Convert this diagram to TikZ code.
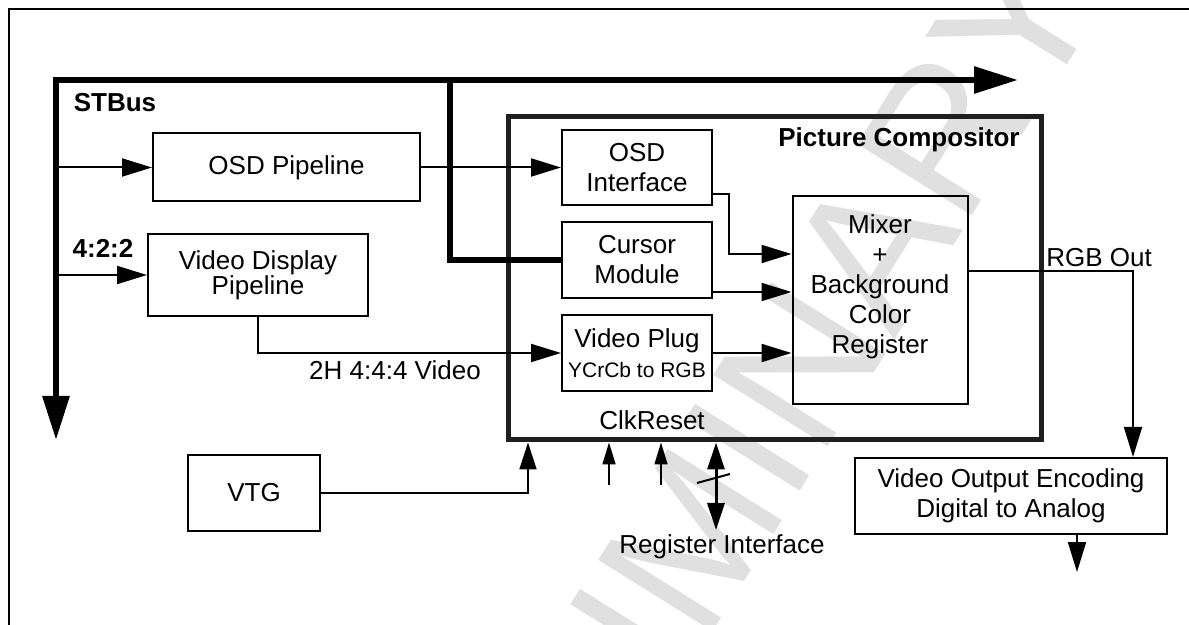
\documentclass[tikz,border=0pt]{standalone}
\usepackage{fontspec}
\setmainfont{Liberation Sans}
\usetikzlibrary{arrows.meta,positioning}
\newcommand{\pcfont}{\fontsize{13pt}{15pt}\selectfont}

\begin{document}
\begin{tikzpicture}[x=0.5pt,y=-0.5pt,
  pcbox/.style={draw=black,line width=1pt,align=center,inner sep=0pt,
    font=\pcfont},
  pcflow/.style={line width=1pt,-{Triangle[length=15pt,width=9pt]}},
  pcclk/.style={line width=0.8pt,-{Triangle[length=11pt,width=6.5pt]}},
  pcpin/.style={line width=1pt,-{Triangle[length=13.5pt,width=8.5pt]}},
  pcbus/.style={line width=3pt},
  pctext/.style={inner sep=0pt,font=\pcfont},
  pcbold/.style={inner sep=0pt,font=\pcfont\bfseries}
]
  \useasboundingbox (0,0) rectangle (1189,625);
  \begin{scope}
    \clip (0,0) rectangle (1189,625);
    \node[rotate=58,text=black!12,inner sep=0pt,
      font=\fontsize{98pt}{98pt}\selectfont] (draftmark) at (698,528)
      {PRELIMINARY};
  \end{scope}
  \draw[line width=1pt] (9,625) |- (1189,9);

  % STBus
  \coordinate (busend) at (1018,80);
  \coordinate (busdown) at (56,440);
  \coordinate (busfork) at (450,80);
  \draw[pcbus,{Triangle[length=22pt,width=13pt]}-{Triangle[length=22pt,width=13pt]}]
    (busdown) |- (busend);
  \node[pcbold] (stbus) at (115,103) {STBus};

  \node[pcbox,minimum width=133.5pt,minimum height=34pt] (osdpipe)
    at (286.5,167.5) {OSD Pipeline};
  \node[pcbox,minimum width=110pt,minimum height=41pt,
    font=\fontsize{13pt}{12.5pt}\selectfont] (vdp) at (258,275)
    {Video Display\\Pipeline};
  \node[pcbold] (fmt) at (103,248) {4:2:2};
  \draw[pcflow] (busdown |- osdpipe.west) -- (osdpipe.west);
  \draw[pcflow] (busdown |- vdp.west) -- (vdp.west);

  % Picture Compositor
  \node[draw=black!88,line width=2.5pt,minimum width=266.5pt,
    minimum height=161.5pt] (pc) at (774.5,278.5) {};
  \node[pcbold] (pctitle) at (899,140) {Picture Compositor};
  \node[pcbox,minimum width=75pt,minimum height=37.5pt] (osdif)
    at (637,167.5) {OSD\\Interface};
  \node[pcbox,minimum width=75pt,minimum height=38pt] (cursor)
    at (637,260) {Cursor\\Module};
  \node[pcbox,minimum width=75pt,minimum height=38pt] (vplug)
    at (637,353) {Video Plug\\{\fontsize{10.5pt}{12pt}\selectfont YCrCb to RGB}};
  \node[pcbox,minimum width=87.5pt,minimum height=104pt] (mixer)
    at (880,300) {};
  \node[pctext,align=center] (mixertext) at (880,287)
    {Mixer\\+\\Background\\Color\\Register};
  \node[pctext] (clk) at (652,420) {ClkReset};

  \draw[pcbus] (busfork) |- (cursor.west);
  \draw[pcflow] (osdpipe.east) -- (osdif.west);
  \draw[pcflow] (vdp.south) |- (vplug.west);
  \node[pctext] (vidlabel) at (395,370) {2H 4:4:4 Video};

  \draw[pcflow] (osdif.east |- 0,194) -- ++(16,0) |- (mixer.west |- 0,254);
  \draw[pcflow] (cursor.east |- 0,292) -- (mixer.west |- 0,292);
  \draw[pcflow] (vplug.east) -- (mixer.west |- vplug.east);

  % output side
  \node[pcbox,minimum width=156pt,minimum height=38pt] (vout)
    at (1011,496) {Video Output Encoding\\Digital to Analog};
  \draw[pcflow] (mixer.east |- 0,271) -| (vout.north -| 1133,0);
  \node[pctext] (rgbout) at (1099,258) {RGB Out};
  \coordinate (voutend) at (1077,572);
  \draw[pcflow] (voutend |- vout.south) -- (voutend);

  % timing and register inputs
  \node[pcbox,minimum width=66pt,minimum height=38pt] (vtg) at (254,493) {VTG};
  \draw[pcpin] (vtg.east) -| (pc.south -| 528,0);
  \coordinate (clka) at (609,485);
  \coordinate (clkb) at (661,485);
  \draw[pcclk] (clka) -- (clka |- pc.south);
  \draw[pcclk] (clkb) -- (clkb |- pc.south);
  \coordinate (regend) at (716,530);
  \draw[line width=1.5pt,{Triangle[length=13.5pt,width=8.5pt]}-{Triangle[length=13.5pt,width=8.5pt]}]
    (regend |- pc.south) -- (regend);
  \draw[line width=1pt] (697,483) -- (730,474);
  \node[pctext,anchor=north] (reglabel) at (722,534) {Register Interface};
\end{tikzpicture}
\end{document}
